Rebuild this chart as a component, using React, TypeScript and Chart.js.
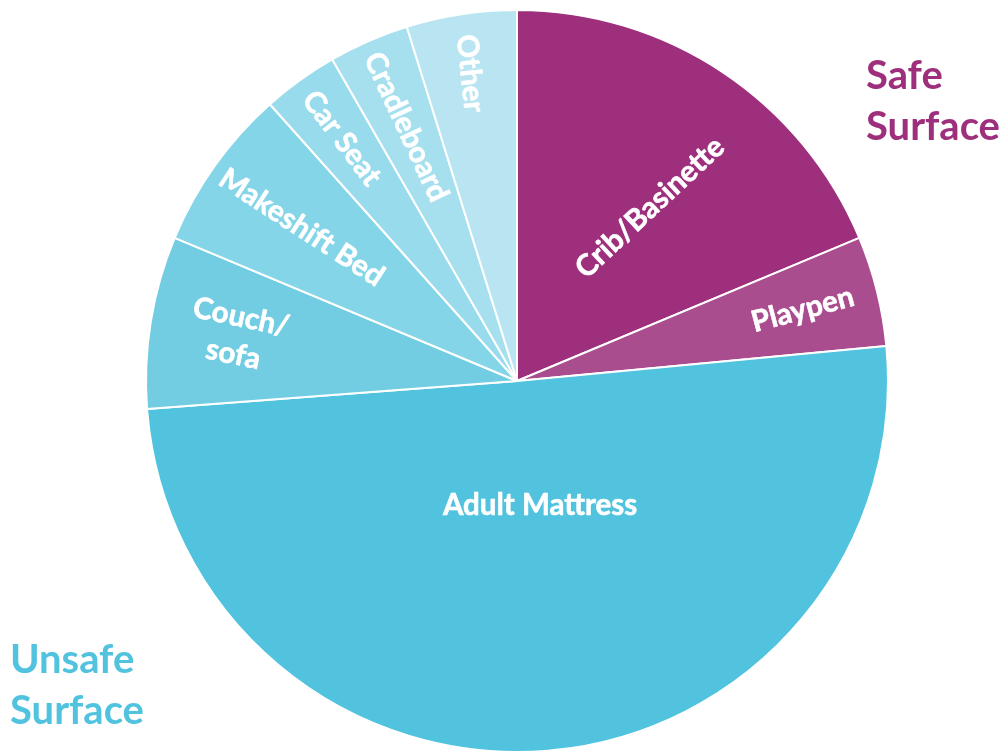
import React, { useEffect, useRef } from 'react';
import { Chart, registerables } from 'chart.js';

Chart.register(...registerables);

// ---- data ----
const categories = [
  'Crib/Basinette',
  'Playpen',
  'Adult Mattress',
  'Couch/sofa',
  'Makeshift Bed',
  'Car Seat',
  'Cradleboard',
  'Other',
];
const shares = [18.7, 4.8, 50.3, 7.5, 7.1, 3.3, 3.5, 4.8];
const labelLines = [
  ['Crib/Basinette'],
  ['Playpen'],
  ['Adult Mattress'],
  ['Couch/', 'sofa'],
  ['Makeshift Bed'],
  ['Car Seat'],
  ['Cradleboard'],
  ['Other'],
];
const safeTitle = ['Safe', 'Surface'];
const unsafeTitle = ['Unsafe', 'Surface'];

// ---- styles ----
const sliceColors = ['#9E2F7C', '#AA4D8F', '#51C3DF', '#72CDE3', '#85D5E8', '#98DBEC', '#A6E0EF', '#B8E5F1'];
const labelRadius = [0.589, 0.794, 0.342, 0.764, 0.713, 0.807, 0.747, 0.839];
const labelAngleShift = [3.8, 0, -5.6, 0, 0, 0, 0, 0];
const labelRotation = [-43, -15, 0, 12, 33, 53, 65, 84];
const FONT = 'Lato, "Open Sans", sans-serif';

const sliceLabelPlugin = {
  id: 'sliceLabels',
  afterDatasetsDraw(chart: any) {
    const ctx = chart.ctx;
    const meta = chart.getDatasetMeta(0);
    ctx.save();
    ctx.fillStyle = '#FFFFFF';
    ctx.strokeStyle = '#FFFFFF';
    ctx.lineWidth = 0.6;
    ctx.font = `bold 29.5px ${FONT}`;
    ctx.textAlign = 'center';
    ctx.textBaseline = 'middle';
    meta.data.forEach((arc: any, i: number) => {
      const { x, y, startAngle, endAngle, outerRadius } = arc.getProps(
        ['x', 'y', 'startAngle', 'endAngle', 'outerRadius'],
        true
      );
      const mid = (startAngle + endAngle) / 2 + (labelAngleShift[i] * Math.PI) / 180;
      const r = outerRadius * labelRadius[i];
      const px = x + Math.cos(mid) * r;
      const py = y + Math.sin(mid) * r;
      const lines = labelLines[i];
      const lh = 38;
      ctx.save();
      ctx.translate(px, py);
      ctx.rotate((labelRotation[i] * Math.PI) / 180);
      lines.forEach((ln, k) => {
        const dy = (k - (lines.length - 1) / 2) * lh;
        ctx.fillText(ln, 0, dy);
        ctx.strokeText(ln, 0, dy);
      });
      ctx.restore();
    });
    ctx.restore();
  },
};

export default function App() {
  const canvasRef = useRef<HTMLCanvasElement | null>(null);

  useEffect(() => {
    document.body.style.margin = '0';
    const canvas = canvasRef.current;
    if (!canvas) return;
    const chart = new Chart(canvas, {
      type: 'pie',
      data: {
        labels: categories,
        datasets: [
          {
            data: shares,
            backgroundColor: sliceColors,
            borderColor: '#FFFFFF',
            borderWidth: 2,
          },
        ],
      },
      options: {
        animation: false,
        responsive: true,
        maintainAspectRatio: false,
        layout: { padding: { left: 145, right: 116, top: 9, bottom: 0 } },
        plugins: {
          legend: { display: false },
          tooltip: { enabled: false },
        },
      },
      plugins: [sliceLabelPlugin],
    });
    return () => chart.destroy();
  }, []);

  const titleStyle: React.CSSProperties = {
    position: 'absolute',
    fontFamily: FONT,
    fontWeight: 700,
    fontSize: 40,
    lineHeight: '51px',
    whiteSpace: 'nowrap',
  };

  return (
    <div style={{ position: 'absolute', left: 0, top: 0, width: 1005, height: 753, background: '#fff', overflow: 'hidden' }}>
      <canvas ref={canvasRef} />
      <div style={{ ...titleStyle, left: 866, top: 49, color: '#9E2F7C' }}>
        {safeTitle.map((t) => (
          <div key={t}>{t}</div>
        ))}
      </div>
      <div style={{ ...titleStyle, left: 10, top: 633, color: '#51C3DF' }}>
        {unsafeTitle.map((t) => (
          <div key={t}>{t}</div>
        ))}
      </div>
    </div>
  );
}
